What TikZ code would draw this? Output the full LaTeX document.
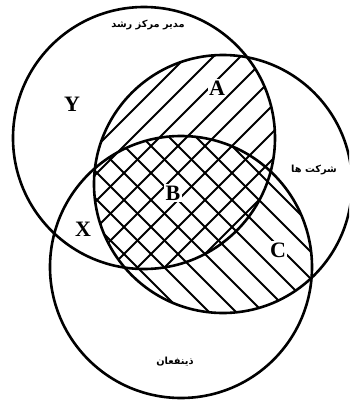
\documentclass[tikz,border=0pt]{standalone}
\usepackage{fontspec}
\setmainfont{Liberation Serif}
\newfontfamily\farsifont[Script=Arabic]{DejaVu Sans}
\TeXXeTstate=1

\begin{document}
\begin{tikzpicture}[x=1pt,y=-1pt,
    set/.style={line width=2.6pt},
    hatch/.style={line width=1.8pt},
    lbl/.style={font=\bfseries\fontsize{22}{22}\selectfont,fill=white,inner sep=1.5pt},
    fa/.style={font=\farsifont\bfseries\fontsize{9.8}{10}\selectfont,inner sep=1pt}]
  \clip (0,0) rectangle (349,400);
  \coordinate (mgr) at (144,138);
  \coordinate (firm) at (223,184);
  \coordinate (stk) at (181,267);
  % manager and firms
  \begin{scope}
    \clip (mgr) circle[radius=131pt];
    \clip (firm) circle[radius=129pt];
    \foreach \c in {0,27,...,750} \draw[hatch] (\c,0) -- (\c-400,400);
  \end{scope}
  % firms and stakeholders
  \begin{scope}
    \clip (firm) circle[radius=129pt];
    \clip (stk) circle[radius=131pt];
    \foreach \c in {-400,-373,...,350} \draw[hatch] (\c,0) -- (\c+400,400);
  \end{scope}
  \node[lbl] (y) at (72,104) {Y};
  \node[lbl] (a) at (217,88) {A};
  \node[lbl] (b) at (173,193) {B};
  \node[lbl] (x) at (83,229) {X};
  \node[lbl] (c) at (278,250) {C};
  \draw[set] (mgr) circle[radius=131pt];
  \draw[set] (firm) circle[radius=129pt];
  \draw[set] (stk) circle[radius=131pt];
  \node[fa] (lmgr) at (148,25) {\beginR مدیر مرکز رشد\endR};
  \node[fa] (lfirm) at (314,170) {\beginR شرکت ها\endR};
  \node[fa] (lstk) at (175,362) {\beginR ذینفعان\endR};
\end{tikzpicture}
\end{document}
